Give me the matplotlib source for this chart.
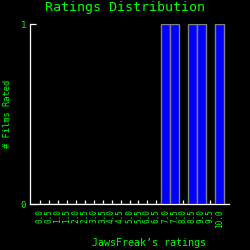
import numpy as np
import matplotlib
matplotlib.use("Agg")
import matplotlib.pyplot as plt

# Ratings categories and number of films rated at each
ratings = ["0.0", "0.5", "1.0", "1.5", "2.0", "2.5", "3.0", "3.5", "4.0", "4.5",
           "5.0", "5.5", "6.0", "6.5", "7.0", "7.5", "8.0", "8.5", "9.0", "9.5", "10.0"]
counts = [0, 0, 0, 0, 0, 0, 0, 0, 0, 0,
          0, 0, 0, 0, 1, 1, 0, 1, 1, 0, 1]
y_ticks = [0, 1]

green = "#00ff00"
mono = "DejaVu Sans Mono"

fig = plt.figure(figsize=(2.5, 2.5), dpi=100)
fig.patch.set_facecolor("black")
ax = fig.add_axes([0.12, 0.184, 0.796, 0.72])
ax.set_facecolor("black")

x = np.arange(len(ratings))
ax.bar(x, counts, width=1.0, color="#0000ff", edgecolor="#808080", linewidth=1.0, zorder=3)

ax.set_xlim(-1.06, len(ratings) - 1 + 1.06)
ax.set_ylim(0, 1)

for side in ["top", "right"]:
    ax.spines[side].set_visible(False)
for side in ["left", "bottom"]:
    ax.spines[side].set_color("white")
    ax.spines[side].set_linewidth(0.9)

ax.set_xticks(x)
ax.set_xticklabels(ratings, rotation=90, family=mono, fontsize=5.6, color=green)
ax.set_yticks(y_ticks)
ax.set_yticklabels([str(v) for v in y_ticks], family=mono, fontsize=6.5, color=green)
ax.tick_params(axis="x", direction="in", length=3, width=0.9, color="white", pad=4)
ax.tick_params(axis="y", direction="in", length=4, width=0.9, color="white", pad=3)

fig.text(0.5, 0.968, "Ratings Distribution", ha="center", va="center",
         family=mono, fontsize=9.6, color=green)
fig.text(0.595, 0.028, "JawsFreak\u2019s ratings", ha="center", va="center",
         family=mono, fontsize=7.2, color=green)
fig.text(0.03, 0.546, "# Films Rated", ha="center", va="center", rotation=90,
         family=mono, fontsize=6.3, color=green)

fig.savefig("out.png", dpi=100, facecolor="black")
